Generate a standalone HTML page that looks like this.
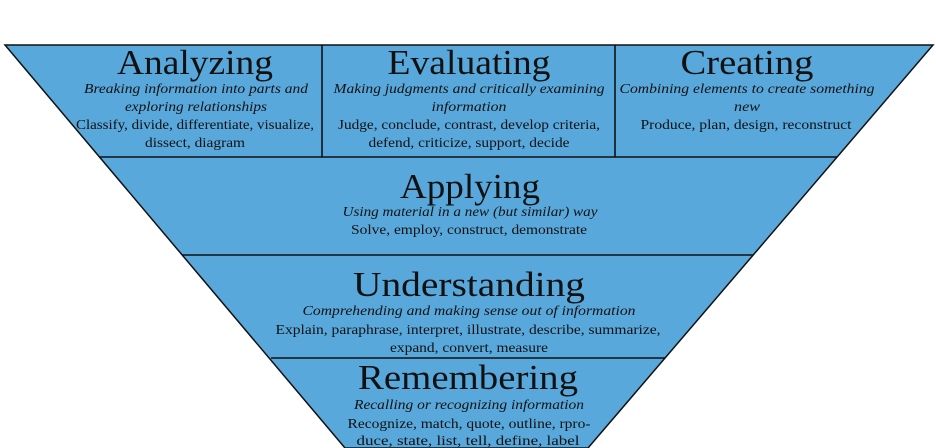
<!DOCTYPE html>
<html><head><meta charset="utf-8"><style>
html,body{margin:0;padding:0;background:#fff;}
svg{display:block;}
text{font-family:"Liberation Serif",serif;fill:#111;}
.t{font-size:35px;}
.i{font-size:14px;font-style:italic;}
.r{font-size:14px;}
</style></head><body>
<svg width="936" height="448" viewBox="0 0 936 448" xmlns="http://www.w3.org/2000/svg">
<polygon points="5,45 933,45 588,448 345,448" fill="#58a8dc" stroke="#111" stroke-width="1.5"/>
<g stroke="#111" stroke-width="1.6">
<line x1="99" y1="157" x2="837" y2="157"/>
<line x1="182" y1="255" x2="753" y2="255"/>
<line x1="271" y1="358" x2="665" y2="358"/>
<line x1="322" y1="45" x2="322" y2="157"/>
<line x1="615" y1="45" x2="615" y2="157"/>
</g>
<g text-anchor="middle">
<text class="t" x="195" y="74" textLength="156" lengthAdjust="spacingAndGlyphs">Analyzing</text>
<text class="i" x="196" y="93" textLength="224" lengthAdjust="spacingAndGlyphs">Breaking information into parts and</text>
<text class="i" x="196" y="111" textLength="142" lengthAdjust="spacingAndGlyphs">exploring relationships</text>
<text class="r" x="195" y="129" textLength="238" lengthAdjust="spacingAndGlyphs">Classify, divide, differentiate, visualize,</text>
<text class="r" x="195" y="147" textLength="100" lengthAdjust="spacingAndGlyphs">dissect, diagram</text>

<text class="t" x="469" y="74" textLength="163" lengthAdjust="spacingAndGlyphs">Evaluating</text>
<text class="i" x="469" y="93" textLength="271" lengthAdjust="spacingAndGlyphs">Making judgments and critically examining</text>
<text class="i" x="469" y="111" textLength="75" lengthAdjust="spacingAndGlyphs">information</text>
<text class="r" x="469" y="129" textLength="262" lengthAdjust="spacingAndGlyphs">Judge, conclude, contrast, develop criteria,</text>
<text class="r" x="469" y="147" textLength="201" lengthAdjust="spacingAndGlyphs">defend, criticize, support, decide</text>

<text class="t" x="747" y="74" textLength="133" lengthAdjust="spacingAndGlyphs">Creating</text>
<text class="i" x="747" y="93" textLength="255" lengthAdjust="spacingAndGlyphs">Combining elements to create something</text>
<text class="i" x="747" y="111" textLength="26" lengthAdjust="spacingAndGlyphs">new</text>
<text class="r" x="746" y="129" textLength="211" lengthAdjust="spacingAndGlyphs">Produce, plan, design, reconstruct</text>

<text class="t" x="470" y="198" textLength="140" lengthAdjust="spacingAndGlyphs">Applying</text>
<text class="i" x="470" y="216" textLength="255" lengthAdjust="spacingAndGlyphs">Using material in a new (but similar) way</text>
<text class="r" x="469" y="234" textLength="236" lengthAdjust="spacingAndGlyphs">Solve, employ, construct, demonstrate</text>

<text class="t" x="469" y="296" textLength="232" lengthAdjust="spacingAndGlyphs">Understanding</text>
<text class="i" x="469" y="315" textLength="333" lengthAdjust="spacingAndGlyphs">Comprehending and making sense out of information</text>
<text class="r" x="468" y="334" textLength="385" lengthAdjust="spacingAndGlyphs">Explain, paraphrase, interpret, illustrate, describe, summarize,</text>
<text class="r" x="469" y="352" textLength="158" lengthAdjust="spacingAndGlyphs">expand, convert, measure</text>

<text class="t" x="468" y="389" textLength="220" lengthAdjust="spacingAndGlyphs">Remembering</text>
<text class="i" x="469" y="409" textLength="230" lengthAdjust="spacingAndGlyphs">Recalling or recognizing information</text>
<text class="r" x="469" y="428" textLength="243" lengthAdjust="spacingAndGlyphs">Recognize, match, quote, outline, rpro-</text>
<text class="r" x="468" y="445" textLength="223" lengthAdjust="spacingAndGlyphs">duce, state, list, tell, define, label</text>
</g>
</svg>
</body></html>
